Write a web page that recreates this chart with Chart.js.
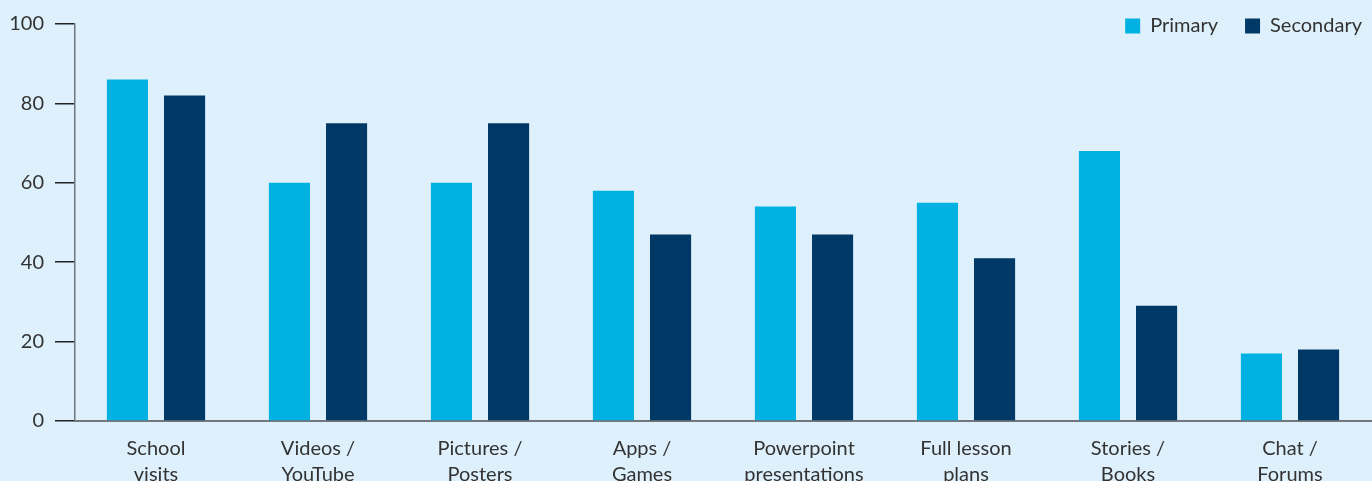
<!DOCTYPE html>
<html>
<head>
<meta charset="utf-8">
<script src="https://cdn.jsdelivr.net/npm/chart.js@4"></script>
<style>
  html, body { margin: 0; padding: 0; background: #ddf0fb; overflow: hidden; }
  #wrap { width: 1372px; height: 503px; }
</style>
</head>
<body>
<div id="wrap"><canvas id="resourceChart"></canvas></div>
<script>
// Chart data
const categories = [
  ['School', 'visits'],
  ['Videos /', 'YouTube'],
  ['Pictures /', 'Posters'],
  ['Apps /', 'Games'],
  ['Powerpoint', 'presentations'],
  ['Full lesson', 'plans'],
  ['Stories /', 'Books'],
  ['Chat /', 'Forums']
];
const primaryValues = [86, 60, 60, 58, 54, 55, 68, 17];
const secondaryValues = [82, 75, 75, 47, 47, 41, 29, 18];
const yTicks = [0, 20, 40, 60, 80, 100];

const textColor = '#333333';
const axisColor = '#71777d';
const fontFamily = 'Lato, "Open Sans", sans-serif';

// shrink the legend box so the plot starts right under it,
// then let it draw past its box again (v4 clips the legend)
const legendHeight = {
  id: 'legendHeight',
  beforeInit(chart) {
    const fit = chart.legend.fit;
    chart.legend.fit = function () {
      fit.bind(chart.legend)();
      this.height = 35;
    };
  },
  afterLayout(chart) {
    chart.legend.bottom = chart.legend.top + 60;
    chart.legend.right += 18; // push it flush with the right edge
  }
};

const ctx = document.getElementById('resourceChart').getContext('2d');

const resourceChart = new Chart(ctx, {
  type: 'bar',
  data: {
    labels: categories,
    datasets: [
      {
        label: 'Primary',
        data: primaryValues,
        backgroundColor: '#00b1e1',
        borderWidth: 0,
        barPercentage: 0.72,
        categoryPercentage: 0.705
      },
      {
        label: 'Secondary',
        data: secondaryValues,
        backgroundColor: '#003965',
        borderWidth: 0,
        barPercentage: 0.72,
        categoryPercentage: 0.705
      }
    ]
  },
  options: {
    responsive: true,
    maintainAspectRatio: false,
    animation: false,
    layout: {
      padding: { top: -11, left: 0, right: 1, bottom: 0 }
    },
    plugins: {
      tooltip: { enabled: false },
      legend: {
        display: true,
        position: 'top',
        align: 'end',
        labels: {
          color: textColor,
          boxWidth: 15,
          boxHeight: 15,
          padding: 27,
          font: { family: fontFamily, size: 20 }
        }
      }
    },
    scales: {
      x: {
        grid: { display: false, drawTicks: false },
        border: { display: true, color: axisColor, width: 2 },
        ticks: {
          color: textColor,
          padding: 15,
          maxRotation: 0,
          autoSkip: false,
          font: { family: fontFamily, size: 20, lineHeight: 1.3 }
        }
      },
      y: {
        min: 0,
        max: 100,
        afterFit(scale) { scale.width = 75; },
        afterBuildTicks(scale) { scale.ticks = yTicks.map(v => ({ value: v })); },
        grid: {
          drawOnChartArea: false,
          drawTicks: true,
          tickLength: 20,
          color: '#222222',
          lineWidth: 1.5
        },
        border: { display: true, color: axisColor, width: 1.5 },
        ticks: {
          color: textColor,
          padding: 11,
          font: { family: fontFamily, size: 20 }
        }
      }
    }
  },
  plugins: [legendHeight]
});
</script>
</body>
</html>
